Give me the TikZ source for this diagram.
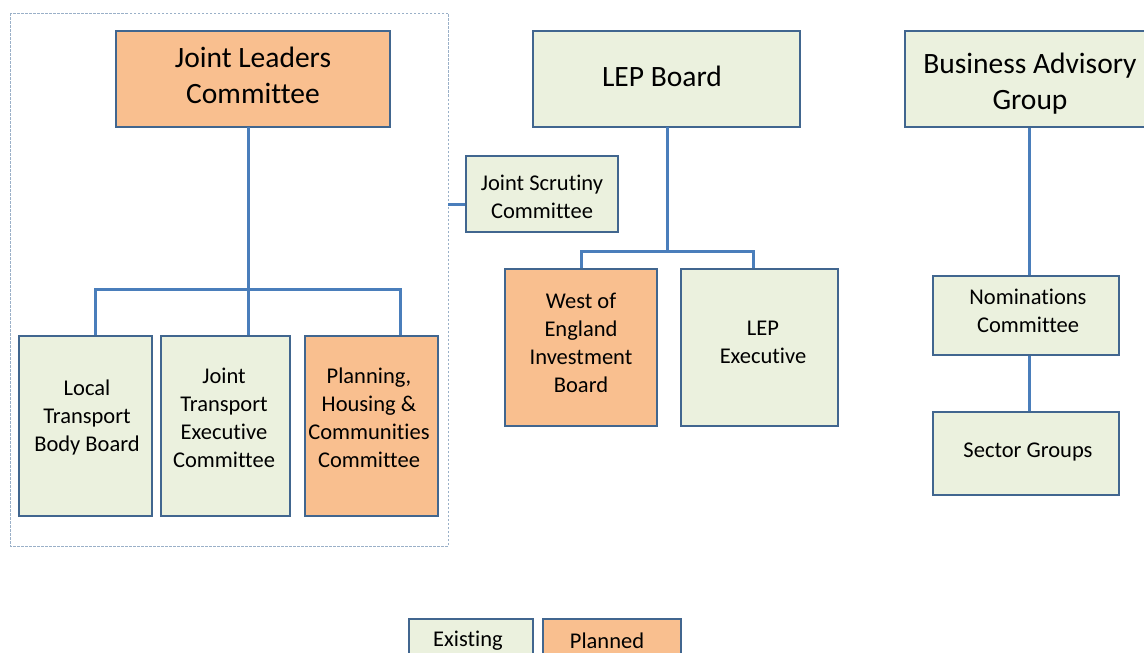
\documentclass[tikz,border=0pt]{standalone}
\usepackage{fontspec}
\setmainfont{Carlito}[Ligatures={NoCommon}]
\definecolor{grn}{HTML}{EBF1DE}
\definecolor{org}{HTML}{F9BF8F}
\definecolor{bord}{HTML}{41668F}
\definecolor{conn}{HTML}{4A7EBB}
\definecolor{framecol}{HTML}{9AB0C8}
\begin{document}
\begin{tikzpicture}[x=1pt,y=-1pt,
  box/.style={draw=bord,line width=1.8pt,inner sep=0pt},
  ex/.style={box,fill=grn},
  pl/.style={box,fill=org},
  bigtxt/.style={align=center,font=\fontsize{29.5}{36}\selectfont,inner sep=0pt},
  smtxt/.style={align=center,font=\fontsize{22.5}{28}\selectfont,inner sep=0pt},
  link/.style={draw=conn,line width=3pt}]
\useasboundingbox (0,0) rectangle (1144,653);
% group frame
\draw[draw=framecol,line width=1pt,dash pattern=on 2.5pt off 1.5pt] (10,13) rectangle (448,546);
\coordinate (frameR) at (448,204);
% boxes
\node[pl,minimum width=274,minimum height=96] (jlc) at (253,79) {};
\node[bigtxt] (jlct) at (253,75) {Joint Leaders\\Committee};
\node[ex,minimum width=267,minimum height=96] (lep) at (666.5,79) {};
\node[bigtxt] (lept) at (662,76) {LEP Board};
\node[ex,minimum width=250,minimum height=96] (bag) at (1030,79) {};
\node[bigtxt] (bagt) at (1030,84) {Business Advisory\\Group};
\node[ex,minimum width=152,minimum height=76] (jsc) at (542,194) {};
\node[smtxt] (jsct) at (542,197) {Joint Scrutiny\\Committee};
\node[pl,minimum width=152,minimum height=157] (weib) at (581,347.5) {};
\node[smtxt] (weibt) at (581,343) {West of\\England\\Investment\\Board};
\node[ex,minimum width=157,minimum height=157] (lepx) at (759.5,347.5) {};
\node[smtxt] (lepxt) at (763,342) {LEP\\Executive};
\node[ex,minimum width=133,minimum height=180] (ltb) at (85.5,426) {};
\node[smtxt] (ltbt) at (87,417) {Local\\Transport\\Body Board};
\node[ex,minimum width=129,minimum height=180] (jtec) at (225.5,426) {};
\node[smtxt] (jtect) at (224,418) {Joint\\Transport\\Executive\\Committee};
\node[pl,minimum width=133,minimum height=180] (phc) at (371.5,426) {};
\node[smtxt] (phct) at (369,418) {Planning,\\Housing \&\\Communities\\Committee};
\node[ex,minimum width=186,minimum height=79] (nom) at (1026,315.5) {};
\node[smtxt] (nomt) at (1028,311) {Nominations\\Committee};
\node[ex,minimum width=186,minimum height=83] (sec) at (1026,453.5) {};
\node[smtxt] (sect) at (1028,452) {Sector Groups};
\node[ex,minimum width=124,minimum height=60] (lgex) at (471,649) {};
\node[smtxt] (lgext) at (468,641) {Existing};
\node[pl,minimum width=138,minimum height=60] (lgpl) at (612,649) {};
\node[smtxt] (lgplt) at (607,641) {Planned};
% connectors
\coordinate (jlcdrop) at (248,127);
\draw[link] (jlcdrop) -- (jlcdrop |- jtec.north);
\draw[link] (ltb.north -| 95,0) |- (248,289) -| (phc.north -| 400,0);
\draw[link] (frameR) -- (frameR -| jsc.west);
\coordinate (lepdrop) at (667,127);
\draw[link] (lepdrop) -- (667,251);
\draw[link] (weib.north) |- (667,251) -| (lepx.north -| 753,0);
\draw[link] (bag.south -| 1029,0) -- (nom.north -| 1029,0);
\draw[link] (nom.south -| 1029,0) -- (sec.north -| 1029,0);
\end{tikzpicture}
\end{document}
